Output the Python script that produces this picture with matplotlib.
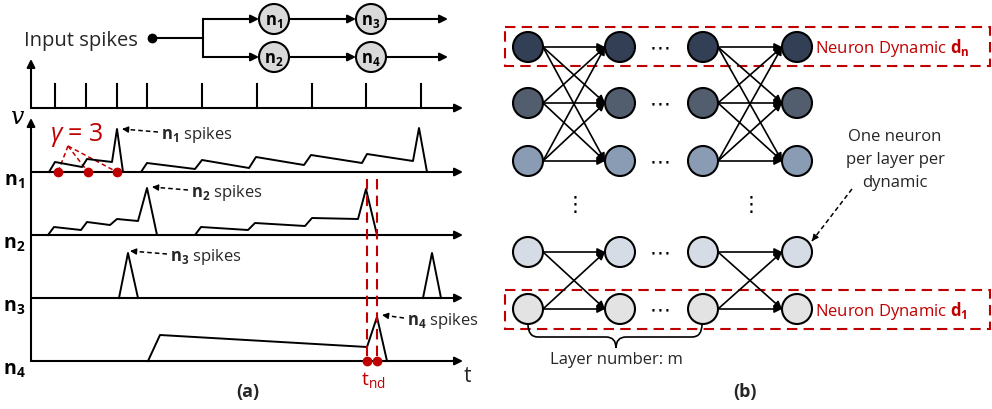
import matplotlib.pyplot as plt
from matplotlib.patches import Circle, Rectangle, PathPatch
from matplotlib.path import Path

plt.rcParams['font.family'] = ['Open Sans', 'DejaVu Sans']
plt.rcParams['mathtext.fontset'] = 'custom'
plt.rcParams['mathtext.rm'] = 'Open Sans'
plt.rcParams['mathtext.bf'] = 'Open Sans:bold'
plt.rcParams['mathtext.it'] = 'Open Sans:italic'

RED = '#c00000'
TXT = '#262626'

# ---------------- panel (a) data (time / height above baseline, px) ----------------
input_spike_times = [55, 86, 117, 147, 202, 257, 312, 366, 421]

n1_t = [49, 55, 82, 87, 112, 117, 123, 141, 147, 195, 202, 249, 256, 304, 311, 362, 367, 413, 419, 427]
n1_v = [0, 10, 5, 13, 10, 43, 0, 0, 9, 3, 12, 4, 15, 7, 17, 9, 18, 11, 44, 0]

n2_t = [48, 54, 81, 87, 110, 117, 138, 147, 157, 195, 201, 248, 255, 305, 312, 358, 366, 377]
n2_v = [0, 8, 5, 13, 10, 16, 14, 47, 0, 0, 8, 5, 12, 9, 17, 16, 46, 0]

n3_t = [119, 128, 138, None, 423, 432, 441]
n3_v = [0, 45, 0, None, 0, 45, 0]

n4_t = [148, 160, 367, 377, 387]
n4_v = [0, 26, 14, 44, 0]

traces = [('1', n1_t, n1_v), ('2', n2_t, n2_v), ('3', n3_t, n3_v), ('4', n4_t, n4_v)]
baselines = [173, 236, 299, 362]

gamma_dots = [58, 88, 117]
t_nd = [367, 377]

spike_notes = [  # (trace index, arrow tip x, tip y offset, text x)
    (0, 122, 42, 161),
    (1, 152, 47, 191),
    (2, 130, 46, 170),
    (3, 382, 45, 407),
]

# ---------------- panel (b) data ----------------
col_x = [528, 620, 703, 797]
row_y = [48, 104, 162, 253, 310]
row_colors = ['#323f54', '#525d6e', '#8a9bb4', '#d6dce6', '#e3e3e3']
groups = [[0, 1, 2], [3, 4]]
R = 15

fig = plt.figure(figsize=(9.92, 4.10), dpi=100)
ax = fig.add_axes([0, 0, 1, 1])
ax.set_xlim(0, 992)
ax.set_ylim(410, 0)
ax.axis('off')


def arrow(p0, p1, lw=1.5, color='k', ms=12):
    ax.annotate('', xy=p1, xytext=p0,
                arrowprops=dict(arrowstyle='-|>', lw=lw, color=color,
                                mutation_scale=ms, shrinkA=0, shrinkB=0))


def dashed_arrow(p0, p1, color='k'):
    ax.plot([p0[0], p1[0]], [p0[1], p1[1]], color=color, lw=1.1, ls=(0, (3, 2)))
    dx, dy = p1[0] - p0[0], p1[1] - p0[1]
    d = (dx ** 2 + dy ** 2) ** 0.5
    arrow((p1[0] - 6 * dx / d, p1[1] - 6 * dy / d), p1, lw=1.0, color=color, ms=9)


# ---- top mini network ----
ax.text(138, 41, 'Input spikes', ha='right', va='center', fontsize=14.5, color=TXT)
ax.plot([152, 203], [39, 39], color='k', lw=1.5)
ax.plot(152, 39, 'o', color='k', ms=6)
ax.plot([203, 203], [20, 58], color='k', lw=1.5)
for y, (a, b) in zip([20, 58], [('1', '3'), ('2', '4')]):
    arrow((203, y), (259, y))
    arrow((289, y), (356, y))
    arrow((386, y), (448, y))
    for cx, lab in [(274, a), (371, b)]:
        ax.add_patch(Circle((cx, y), R, fc='#d9d9d9', ec='k', lw=1.5, zorder=3))
        ax.text(cx, y + 1, r'$\mathbf{n_%s}$' % lab, ha='center', va='center',
                fontsize=12, zorder=4)

# ---- input spike train ----
arrow((31, 109), (31, 60))
arrow((31, 109), (463, 109))
for t in input_spike_times:
    ax.plot([t, t], [85, 109], color='k', lw=1.5)

# ---- membrane traces ----
arrow((31, 362), (31, 119))
ax.text(17, 118, 'v', fontsize=17, fontstyle='italic', family='DejaVu Serif',
        ha='center', va='center')
for (lab, ts, vs), base in zip(traces, baselines):
    arrow((31, base), (463, base))
    xs = [t if t is not None else float('nan') for t in ts]
    ys = [base - v if v is not None else float('nan') for v in vs]
    ax.plot(xs, ys, color='k', lw=1.4, zorder=3)
    ax.text(14, base + 9, r'$\mathbf{n_%s}$' % lab, ha='center', va='center',
            fontsize=14)

for tr, tip_x, off, tx in spike_notes:
    base = baselines[tr]
    tip = (tip_x, base - off - 1)
    dashed_arrow((tx - 3, base - off + 2), tip)
    ax.text(tx, base - off + 4, r'$\mathbf{n_%d}$ spikes' % (tr + 1), ha='left',
            va='center', fontsize=12, color=TXT)

# gamma annotation
ax.text(77, 135, r'$\gamma$ = 3', color=RED, fontsize=18, ha='center', va='center')
for gx in gamma_dots:
    ax.plot([68, gx], [147, baselines[0]], color=RED, lw=1.1, ls=(0, (3, 2)))
    ax.plot(gx, baselines[0], 'o', color=RED, ms=6, zorder=5)

# t_nd markers
for tx in t_nd:
    ax.plot([tx, tx], [180, 362], color=RED, lw=1.5, ls=(0, (5, 3)), zorder=4)
    ax.plot(tx, 362, 'o', color=RED, ms=6, zorder=5)
ax.text(373, 380, r'$\mathrm{t_{nd}}$', color=RED, fontsize=14, ha='center', va='center')
ax.text(467, 377, 't', fontsize=15, ha='center', va='center', color=TXT)
ax.text(248, 392, '(a)', fontsize=13, fontweight='bold', ha='center', va='center', color=TXT)

# ---------------- panel (b) ----------------
for g in groups:
    for c0, c1 in [(0, 1), (2, 3)]:
        for r0 in g:
            for r1 in g:
                arrow((col_x[c0] + R, row_y[r0]), (col_x[c1] - R, row_y[r1]), lw=1.2, ms=11)
for r, y in enumerate(row_y):
    for cx in col_x:
        ax.add_patch(Circle((cx, y), R, fc=row_colors[r], ec='k', lw=1.5, zorder=3))
    ax.text(660, y, '⋯', family='DejaVu Sans', fontsize=15, ha='center', va='center')
for vx in [575, 751]:
    ax.text(vx, 205, '⋮', family='DejaVu Sans', fontsize=15, ha='center', va='center')

for y0 in [28, 291]:
    ax.add_patch(Rectangle((505, y0), 485, 39, fill=False, ec=RED, lw=1.5,
                           ls=(0, (5, 3)), zorder=2))
ax.text(815, 48, r'Neuron Dynamic $\mathbf{d_n}$', color=RED, fontsize=12,
        ha='left', va='center')
ax.text(815, 311, r'Neuron Dynamic $\mathbf{d_1}$', color=RED, fontsize=12,
        ha='left', va='center')

for i, line in enumerate(['One neuron', 'per layer per', 'dynamic']):
    ax.text(895, 137 + 23 * i, line, fontsize=12, ha='center', va='center', color=TXT)
dashed_arrow((852, 190), (812, 242))

# brace under the bottom row
verts = [(528, 325), (528, 338), (538, 338), (606, 338), (616, 338), (616, 349),
         (616, 338), (626, 338), (692, 338), (702, 338), (702, 325)]
codes = [Path.MOVETO, Path.CURVE3, Path.CURVE3, Path.LINETO, Path.CURVE3, Path.CURVE3,
         Path.CURVE3, Path.CURVE3, Path.LINETO, Path.CURVE3, Path.CURVE3]
ax.add_patch(PathPatch(Path(verts, codes), fill=False, ec='k', lw=1.2, zorder=4))
ax.text(616, 360, 'Layer number: m', fontsize=12, ha='center', va='center', color=TXT)
ax.text(745, 392, '(b)', fontsize=13, fontweight='bold', ha='center', va='center', color=TXT)

fig.savefig('out.png', dpi=100)
